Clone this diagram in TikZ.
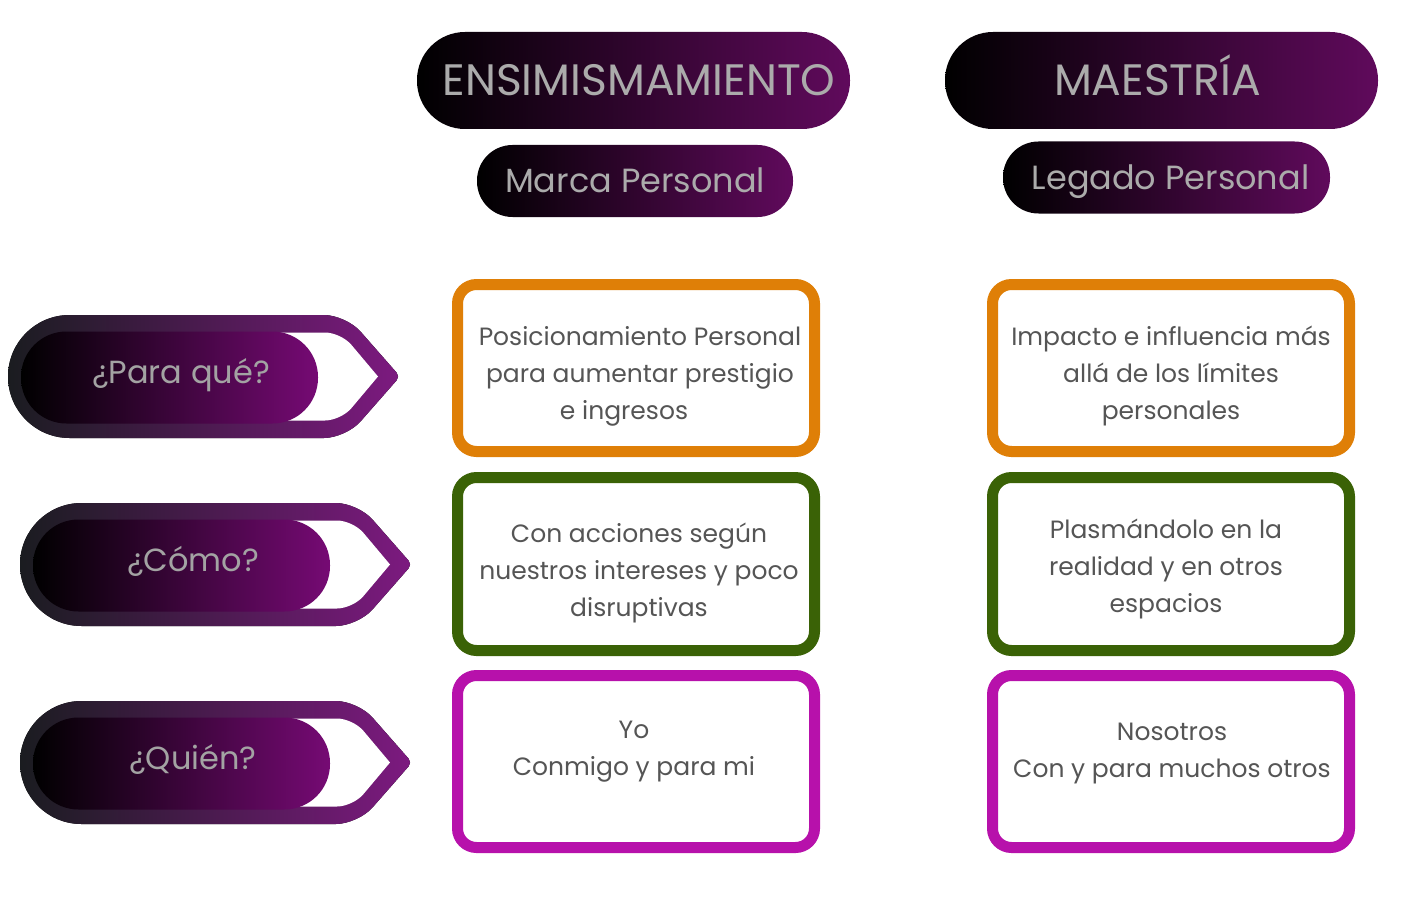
\documentclass[tikz,border=0pt]{standalone}
\usepackage{fontspec}
\setmainfont{Poppins}
\definecolor{outL}{HTML}{1A1C20}
\definecolor{outR}{HTML}{7D1A80}
\definecolor{pillR}{HTML}{760A74}
\definecolor{hdrR}{HTML}{600A5C}
\definecolor{hdrT}{HTML}{ABABAB}
\definecolor{qT}{HTML}{A3A3A3}
\definecolor{cardT}{HTML}{555555}
\definecolor{cOr}{HTML}{DF7F07}
\definecolor{cGr}{HTML}{3A6206}
\definecolor{cMg}{HTML}{B711AB}
\newcommand\qarrow[4]{%
 \begin{scope}[shift={(#2,#3)}]
  \fill[left color=outL, right color=outR] (61.5,-61.5) [rounded corners=22pt] -- (338,-61.5) [rounded corners=5pt] -- (392,0) [rounded corners=22pt] -- (338,61.5) [sharp corners] -- (61.5,61.5) arc[start angle=90,end angle=270,radius=61.5] -- cycle;
  \fill[white] (59,-44) [rounded corners=16pt] -- (333,-44) [sharp corners] -- (370,0) [rounded corners=16pt] -- (333,44) [sharp corners] -- (59,44) arc[start angle=90,end angle=270,radius=44] -- cycle;
  \node[pill] (#1) at (161.5,1) {};
  \node[qtext] (#1t) at (173,-4) {#4};
 \end{scope}}
\begin{document}
\begin{tikzpicture}[x=1pt,y=-1pt,
  hdr/.style={inner sep=0pt, left color=black, right color=hdrR, text=hdrT, text depth=0pt},
  bigh/.style={hdr, minimum width=433pt, minimum height=97pt, rounded corners=48pt, font=\fontsize{44}{52}\selectfont, text height=30.5pt},
  subh/.style={hdr, minimum height=72pt, rounded corners=35.5pt, font=\fontsize{33.5}{40}\selectfont, text height=23.5pt},
  card/.style={draw, line width=11pt, rounded corners=19pt, minimum width=357pt, inner sep=0pt, fill=white},
  ctext/.style={align=center, text=cardT, font=\fontsize{25}{37}\selectfont, inner sep=0pt},
  pill/.style={inner sep=0pt, minimum width=297pt, minimum height=92pt, rounded corners=45.5pt, left color=black, right color=pillR},
  qtext/.style={text=qT, font=\fontsize{32}{38}\selectfont, inner sep=0pt, text height=22.5pt, text depth=0pt}]
\useasboundingbox (0,0) rectangle (1410,904);
% headers
\node[bigh] (h1) at (633.5,80.5) {\hspace*{11pt}ENSIMISMAMIENTO};
\node[subh, minimum width=316pt] (s1) at (635,181) {Marca Personal};
\node[bigh] (h2) at (1161.5,80.5) {MAESTRÍA\hspace*{8pt}};
\node[subh, minimum width=327pt] (s2) at (1166.5,177.5) {\hspace*{8pt}Legado Personal};
% question arrows
\qarrow{q1}{8}{376.5}{¿Para qué?}
\qarrow{q2}{20}{564.5}{¿Cómo?}
\qarrow{q3}{20}{762.5}{¿Quién?}
% cards
\node[card, draw=cOr, minimum height=167pt] (c11) at (636,368) {};
\node[card, draw=cOr, minimum height=167pt] (c12) at (1171,368) {};
\node[card, draw=cGr, minimum height=173pt] (c21) at (636,564) {};
\node[card, draw=cGr, minimum height=173pt] (c22) at (1171,564) {};
\node[card, draw=cMg, minimum height=172pt] (c31) at (636,761.5) {};
\node[card, draw=cMg, minimum height=172pt] (c32) at (1171,761.5) {};
% card texts
\node[ctext] (t11) at (640,376) {Posicionamiento Personal\\para aumentar prestigio\\e ingresos\hspace*{32pt}};
\node[ctext] (t12) at (1171,376) {Impacto e influencia más\\allá de los límites\\personales};
\node[ctext] (t21) at (639,573) {Con acciones según\\nuestros intereses y poco\\disruptivas};
\node[ctext] (t22) at (1166,569) {Plasmándolo en la\\realidad y en otros\\espacios};
\node[ctext] (t31) at (634,752) {Yo\\Conmigo y para mi};
\node[ctext] (t32) at (1172,753.5) {Nosotros\\Con y para muchos otros};
\end{tikzpicture}
\end{document}
